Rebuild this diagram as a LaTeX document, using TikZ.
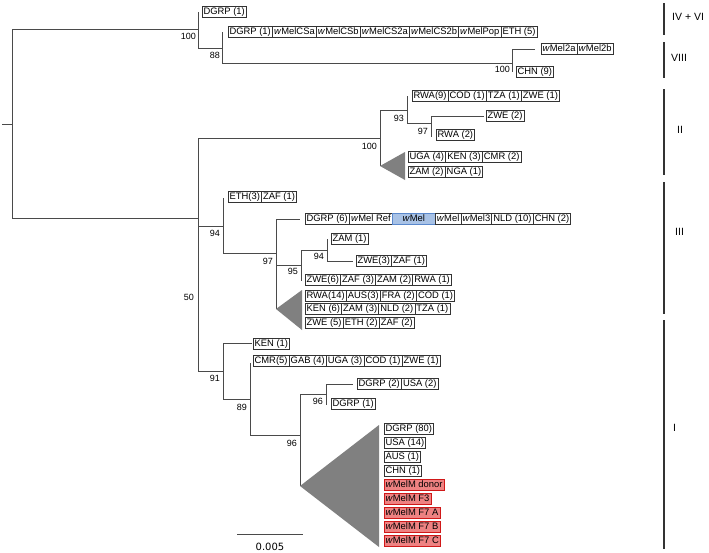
\documentclass[tikz,border=0pt]{standalone}
\usepackage{fontspec}
\setmainfont{Liberation Sans}
\newfontfamily\djv{DejaVu Sans}
\newcommand\iw{\textit{w}}
\definecolor{cellgray}{HTML}{333333}
\definecolor{linegray}{HTML}{4A4A4A}
\definecolor{trigray}{HTML}{808080}
\definecolor{redfill}{HTML}{EE8282}
\definecolor{redline}{HTML}{D01818}
\definecolor{bluefill}{HTML}{A8C2E6}
\definecolor{blueline}{HTML}{5A88CC}
\tikzset{
  cell/.style={draw=cellgray, fill=white, line width=0.75pt, font=\fontsize{9.4}{10}\selectfont,
    inner xsep=1.6pt, inner ysep=0.9pt, text height=6.8pt, text depth=2pt, outer sep=0pt},
  redcell/.style={cell, fill=redfill, draw=redline},
  bluecell/.style={cell, fill=bluefill, draw=blueline, minimum width=43pt},
  br/.style={draw=linegray, line width=0.95pt},
  boot/.style={font=\fontsize{9}{10}\selectfont, anchor=east, inner sep=0pt},
  tri/.style={fill=trigray, draw=none},
  clade/.style={draw=black!80, line width=1.1pt},
  cladelabel/.style={font=\fontsize{10.5}{12}\selectfont, anchor=west, inner sep=0pt},
}
\newcommand\cellrow[3]{%
  \foreach \s/\t [count=\i] in {#3} {
    \ifnum\i=1
      \node[\s, anchor=west] (#1-\i) at #2 {\t};
    \else
      \pgfmathtruncatemacro\j{\i-1}
      \node[\s, anchor=west] (#1-\i) at (#1-\j.east) {\t};
    \fi
  }
}
\begin{document}
\begin{tikzpicture}[x=1pt,y=-1pt]
\useasboundingbox (0,0) rectangle (709,552);
\fill[white] (0,0) rectangle (709,552);

% ---- tree internal nodes ----
\coordinate (stub) at (2,124);
\coordinate (root) at (12,124);
\coordinate (A) at (198,29);
\coordinate (Aleaf) at (198,12);
\coordinate (B) at (222,48);
\coordinate (Bleaf) at (222,32);
\coordinate (C) at (512,63);
\coordinate (Cend) at (535,49);
\coordinate (Cleaf) at (512,72);
\coordinate (D) at (198,218);
\coordinate (II) at (380,138);
\coordinate (IIapex) at (380,166);
\coordinate (n93) at (407,110);
\coordinate (n93leaf) at (407,96);
\coordinate (n97) at (431,123);
\coordinate (n97end) at (484,116);
\coordinate (n97leaf) at (431,137);
\coordinate (III) at (223,226);
\coordinate (IIIleaf) at (223,198);
\coordinate (m97) at (276,253);
\coordinate (m97end) at (300,219);
\coordinate (m97apex) at (276,309);
\coordinate (m95) at (301,265);
\coordinate (m95leaf) at (301,281);
\coordinate (m94) at (327,250);
\coordinate (m94leaf) at (327,239);
\coordinate (m94end) at (353,261);
\coordinate (I) at (223,371);
\coordinate (Iend) at (252,343);
\coordinate (k89) at (250,399);
\coordinate (k89leaf) at (250,363);
\coordinate (k96) at (300,435);
\coordinate (k96apex) at (300,486);
\coordinate (k96b) at (326,394);
\coordinate (k96bend) at (353,384);
\coordinate (k96bleaf) at (326,405);

\draw[br] (stub) -- (root);
\foreach \p/\c in {root/A, A/Aleaf, A/B, B/Bleaf, B/C, C/Cend, C/Cleaf,
  root/D, D/II, II/n93, II/IIapex, n93/n93leaf, n93/n97, n97/n97end, n97/n97leaf,
  D/III, III/IIIleaf, III/m97, m97/m97end, m97/m95, m97/m97apex, m95/m94, m95/m95leaf,
  m94/m94leaf, m94/m94end,
  D/I, I/Iend, I/k89, k89/k89leaf, k89/k96, k96/k96b, k96/k96apex, k96b/k96bend, k96b/k96bleaf}
  \draw[br] (\p) |- (\c);

% collapsed clades
\fill[tri] (IIapex) -- (405,152) -- (405,180) -- cycle;
\fill[tri] (m97apex) -- (302,290) -- (302,330) -- cycle;
\fill[tri] (k96apex) -- (379,425) -- (379,547) -- cycle;

% bootstrap values
\node[boot] (bA) at (196,36) {100};
\node[boot] (bB) at (220,55) {88};
\node[boot] (bC) at (510,69) {100};
\node[boot] (bD) at (194,297) {50};
\node[boot] (bII) at (377,146) {100};
\node[boot] (b93) at (404,118) {93};
\node[boot] (b97) at (428,131) {97};
\node[boot] (bIII) at (220,233) {94};
\node[boot] (bm97) at (273,261) {97};
\node[boot] (bm95) at (298,271) {95};
\node[boot] (bm94) at (324,256) {94};
\node[boot] (bI) at (220,378) {91};
\node[boot] (b89) at (247,407) {89};
\node[boot] (b96) at (297,443) {96};
\node[boot] (b96b) at (323,401) {96};

% leaf boxes
\cellrow{ra}{(202,12)}{cell/DGRP (1)}
\cellrow{rb}{(228,32)}{cell/DGRP (1), cell/\iw MelCSa, cell/\iw MelCSb, cell/\iw MelCS2a, cell/\iw MelCS2b, cell/\iw MelPop, cell/ETH (5)}
\cellrow{rc}{(541,49)}{cell/\iw Mel2a, cell/\iw Mel2b}
\cellrow{rd}{(516,72)}{cell/CHN (9)}
\cellrow{re}{(412,96)}{cell/RWA(9), cell/COD (1), cell/TZA (1), cell/ZWE (1)}
\cellrow{rf}{(486,116)}{cell/ZWE (2)}
\cellrow{rg}{(436,135)}{cell/RWA (2)}
\cellrow{rh}{(408,157)}{cell/UGA (4), cell/KEN (3), cell/CMR (2)}
\cellrow{ri}{(408,172)}{cell/ZAM (2), cell/NGA (1)}
\cellrow{rj}{(228,197)}{cell/ETH(3), cell/ZAF (1)}
\cellrow{rk}{(305,219)}{cell/DGRP (6), cell/\iw Mel Ref, bluecell/\iw Mel, cell/\iw Mel, cell/\iw Mel3, cell/NLD (10), cell/CHN (2)}
\cellrow{rl}{(331,239)}{cell/ZAM (1)}
\cellrow{rm}{(356,261)}{cell/ZWE(3), cell/ZAF (1)}
\cellrow{rn}{(305,280)}{cell/ZWE(6), cell/ZAF (3), cell/ZAM (2), cell/RWA (1)}
\cellrow{ro}{(305,296)}{cell/RWA(14), cell/AUS(3), cell/FRA (2), cell/COD (1)}
\cellrow{rp}{(305,309)}{cell/KEN (6), cell/ZAM (3), cell/NLD (2), cell/TZA (1)}
\cellrow{rq}{(305,323)}{cell/ZWE (5), cell/ETH (2), cell/ZAF (2)}
\cellrow{rr}{(253,344)}{cell/KEN (1)}
\cellrow{rs}{(253,361)}{cell/CMR(5), cell/GAB (4), cell/UGA (3), cell/COD (1), cell/ZWE (1)}
\cellrow{rt}{(357,384)}{cell/DGRP (2), cell/USA (2)}
\cellrow{ru}{(331,404)}{cell/DGRP (1)}
\cellrow{v1}{(384,429)}{cell/DGRP (80)}
\cellrow{v2}{(384,443)}{cell/USA (14)}
\cellrow{v3}{(384,457)}{cell/AUS (1)}
\cellrow{v4}{(384,471)}{cell/CHN (1)}
\cellrow{v5}{(384,485)}{redcell/\iw MelM donor}
\cellrow{v6}{(384,499)}{redcell/\iw MelM F3}
\cellrow{v7}{(384,513)}{redcell/\iw MelM F7 A}
\cellrow{v8}{(384,527)}{redcell/\iw MelM F7 B}
\cellrow{v9}{(384,541)}{redcell/\iw MelM F7 C}

% scale bar
\coordinate (sb1) at (237,534);
\coordinate (sb2) at (303,534);
\draw[br] (sb1) -- (sb2);
\node[font=\djv\fontsize{10}{12}\selectfont, inner sep=0pt] (sbl) at (270,547) {0.005};

% clade bars
\coordinate (c1a) at (664,3);  \coordinate (c1b) at (664,35);
\coordinate (c2a) at (664,42); \coordinate (c2b) at (664,78);
\coordinate (c3a) at (664,89); \coordinate (c3b) at (664,175);
\coordinate (c4a) at (664,182); \coordinate (c4b) at (664,314);
\coordinate (c5a) at (664,320); \coordinate (c5b) at (664,549);
\draw[clade] (c1a) -- (c1b);
\draw[clade] (c2a) -- (c2b);
\draw[clade] (c3a) -- (c3b);
\draw[clade] (c4a) -- (c4b);
\draw[clade] (c5a) -- (c5b);
\node[cladelabel] (L1) at (672,17) {IV + VI};
\node[cladelabel] (L2) at (671,58) {VIII};
\node[cladelabel] (L3) at (677,130) {II};
\node[cladelabel] (L4) at (675,232) {III};
\node[cladelabel] (L5) at (673,428) {I};
\end{tikzpicture}
\end{document}
